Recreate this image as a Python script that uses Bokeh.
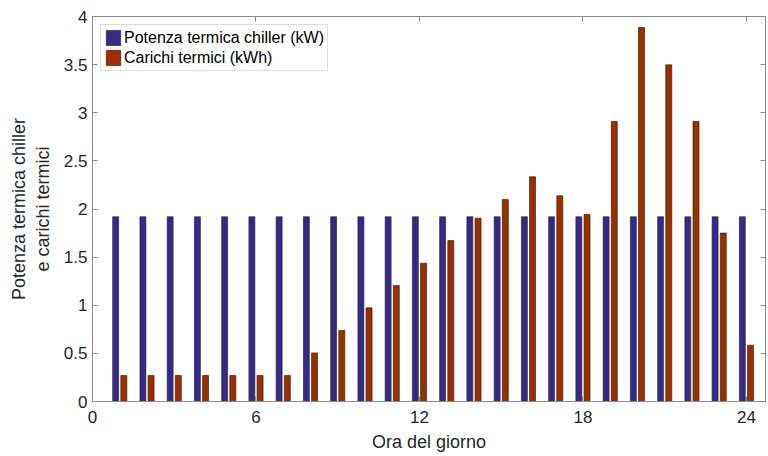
from bokeh.plotting import figure
from bokeh.models import ColumnDataSource, LinearAxis, FixedTicker, Range1d, Legend, LegendItem
from bokeh.transform import dodge
from bokeh.embed import file_html
from bokeh.resources import INLINE

# Hourly data
hours = list(range(1, 25))
chiller_kw = [1.92] * 24
loads_kwh = [0.27, 0.27, 0.27, 0.27, 0.27, 0.27, 0.27, 0.505, 0.738, 0.973,
             1.205, 1.437, 1.672, 1.905, 2.10, 2.335, 2.137, 1.943, 2.91, 3.886,
             3.498, 2.91, 1.75, 0.585]
x_ticks = [0, 6, 12, 18, 24]
y_ticks = [0, 0.5, 1, 1.5, 2, 2.5, 3, 3.5, 4]
y_tick_labels = {0: "0", 0.5: "0.5", 1: "1", 1.5: "1.5", 2: "2", 2.5: "2.5",
                 3: "3", 3.5: "3.5", 4: "4"}

src = ColumnDataSource(dict(h=hours, c=chiller_kw, l=loads_kwh))

BLUE = "#352a87"
RED = "#9a3000"
AXIS = "#8c8c8c"
FONT = "Liberation Sans"

p = figure(width=768, height=456, output_backend="svg", toolbar_location=None,
           x_range=Range1d(0, 24.7), y_range=Range1d(0, 4),
           min_border_left=92, min_border_right=3, min_border_top=16,
           min_border_bottom=55, background_fill_color="white",
           border_fill_color="white", outline_line_color=None)
p.grid.visible = False

r1 = p.vbar(x=dodge("h", -0.15, range=p.x_range), top="c", width=0.22, source=src,
            fill_color=BLUE, line_color="#222222", line_width=0.6)
r2 = p.vbar(x=dodge("h", 0.15, range=p.x_range), top="l", width=0.22, source=src,
            fill_color=RED, line_color="#2a1000", line_width=0.6)

def style_axis(ax, labels=True):
    ax.axis_line_color = AXIS
    ax.major_tick_line_color = AXIS
    ax.major_tick_in = 5
    ax.major_tick_out = 0
    ax.minor_tick_line_color = None
    ax.major_label_text_font = FONT
    ax.major_label_text_font_size = "17px"
    ax.major_label_text_color = "#262626" if labels else None
    ax.axis_label_text_font = FONT
    ax.axis_label_text_font_size = "18px"
    ax.axis_label_text_font_style = "normal"
    ax.axis_label_text_color = "#262626"

xa = p.xaxis[0]
xa.ticker = FixedTicker(ticks=x_ticks)
xa.axis_label = "Ora del giorno"
xa.major_label_standoff = 9
xa.axis_label_standoff = 6
style_axis(xa)

ya = p.yaxis[0]
ya.ticker = FixedTicker(ticks=y_ticks)
ya.major_label_overrides = y_tick_labels
ya.axis_label = "Potenza termica chiller\ne carichi termici"
ya.axis_label_standoff = 8
style_axis(ya)

top = LinearAxis(ticker=FixedTicker(ticks=x_ticks))
style_axis(top, labels=False)
p.add_layout(top, "above")
right = LinearAxis(ticker=FixedTicker(ticks=y_ticks))
style_axis(right, labels=False)
p.add_layout(right, "right")

legend = Legend(items=[LegendItem(label="Potenza termica chiller (kW)", renderers=[r1]),
                       LegendItem(label="Carichi termici (kWh)", renderers=[r2])],
                location="top_left", margin=8, padding=3, spacing=1,
                glyph_width=18, glyph_height=19, label_height=19,
                label_standoff=2, label_text_font=FONT,
                label_text_font_size="16px", label_text_color="#000000",
                border_line_color="#bbbbbb", border_line_width=1,
                background_fill_alpha=1)
p.add_layout(legend)

open("out.html", "w").write(file_html(p, INLINE))
